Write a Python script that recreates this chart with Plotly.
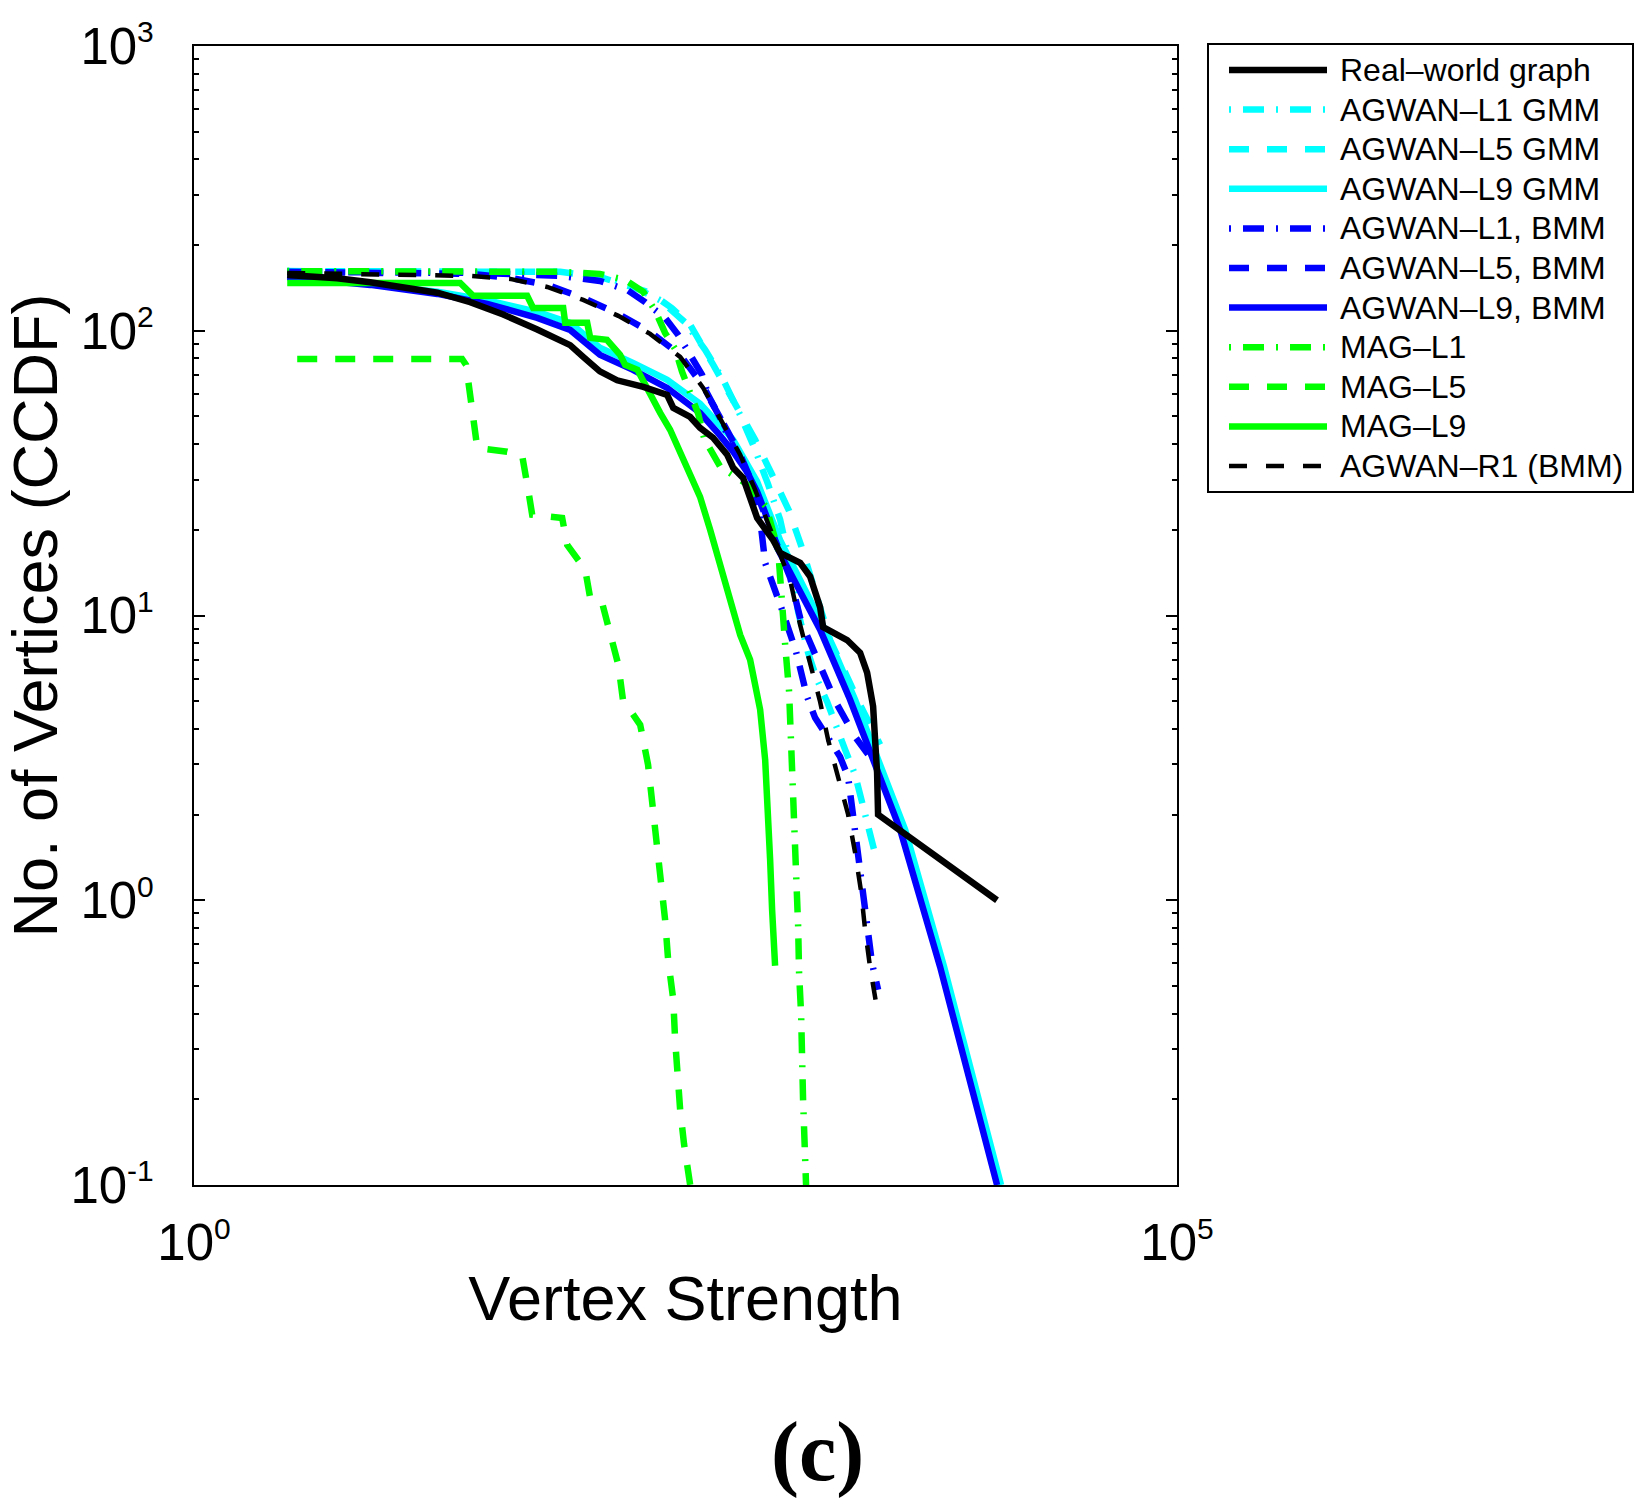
import plotly.graph_objects as go

# ---------------- data ----------------
names = ["Real–world graph", "AGWAN–L1 GMM", "AGWAN–L5 GMM", "AGWAN–L9 GMM",
         "AGWAN–L1, BMM", "AGWAN–L5, BMM", "AGWAN–L9, BMM",
         "MAG–L1", "MAG–L5", "MAG–L9", "AGWAN–R1 (BMM)"]

real_x = [2.98, 5.35, 7.88, 11.6, 17.3, 25.4, 37.4, 55.7, 67.1, 81.9, 95.4, 116, 142, 193,
          255, 274, 334, 375, 437, 515, 553, 621, 674, 732, 883, 958, 1211, 1361, 1530,
          1585, 2099, 2444, 2653, 2846, 2982, 3017, 12150]
real_y = [157, 153, 148, 142.5, 136, 126, 114, 101, 95, 89, 81, 72, 67, 63.5, 59.5, 53.6,
          49.8, 45.6, 42.1, 36.7, 33, 30.4, 25.9, 22, 18.4, 16.6, 15.3, 13.7, 10.7, 9.1,
          8.2, 7.4, 6.3, 4.8, 2.8, 2.0, 1.0]

gmm_l1_x = [2.98, 72.9, 116, 165, 235, 315, 398, 492, 600, 715, 833, 958, 1077, 1183,
            1329, 1477, 1661, 1824, 2050, 2305, 2474, 2653, 2812, 2948]
gmm_l1_y = [162, 161, 156, 145, 128, 107, 85.7, 67.2, 50.6, 38.2, 28.8, 21.7, 15.1, 10.3,
            7.4, 5.95, 4.98, 4.13, 3.38, 2.76, 2.25, 1.87, 1.63, 1.41]

gmm_l5_x = [2.98, 72.9, 116, 156, 209, 270, 334, 437, 566, 715, 872, 1064, 1225, 1393,
            1720, 2444, 3089]
gmm_l5_y = [162, 161, 154.5, 145, 136, 120, 105, 76, 55, 41.4, 31.2, 23.3, 17.6, 13.3,
            8.2, 4.86, 3.52]

gmm_l9_x = [2.98, 7.88, 17.3, 31.0, 55.7, 81.9, 116, 171, 255, 375, 553, 732, 958, 1622,
            2305, 4140, 6531, 12740]
gmm_l9_y = [157, 146, 137, 128, 116.5, 106.6, 87.1, 77.1, 67.2, 55.4, 41.4, 29.5, 18.4,
            8.91, 5.06, 1.77, 0.584, 0.1]

bmm_l1_x = [2.98, 28.6, 72.9, 116, 160, 197, 249, 290, 334, 384, 417, 475, 521, 651, 749,
            804, 969, 1155, 1314, 1443, 1680, 1933, 2124, 2279, 2474, 2653, 2812, 3017]
bmm_l1_y = [161, 159.6, 155.8, 149.6, 139, 126, 111, 96.7, 82.3, 70, 58.1, 49.4, 42.4,
            31.9, 23.5, 15.3, 10.7, 7.46, 5.18, 4.37, 3.72, 3.19, 2.71, 1.84, 1.26, 0.868,
            0.599, 0.485]

bmm_l5_x = [2.98, 25.4, 40.6, 62.6, 95.4, 144, 209, 297, 389, 486, 600, 715, 852, 1077,
            1225, 1548, 1845, 2305, 2812]
bmm_l5_y = [161, 158.4, 153.3, 144.9, 130.4, 114.6, 99.1, 82.3, 64, 48.6, 36.7, 27.6,
            20.3, 13.6, 9.5, 6.61, 4.94, 3.75, 3.11]

bmm_l9_x = [2.98, 7.88, 17.3, 31.0, 55.7, 81.9, 116, 171, 255, 375, 458, 553, 651, 732,
            823, 925, 1530, 2174, 3905, 6236, 12157]
bmm_l9_y = [154.5, 144.9, 134.7, 124.3, 111, 100.7, 82.3, 72.9, 63, 51.5, 44.1, 37.6,
            31.9, 27.2, 22, 17.3, 8.91, 5.06, 1.77, 0.584, 0.1]

mag_l1_x = [2.98, 72.9, 116, 156, 193, 222, 249, 280, 304, 334, 367, 394, 475, 636, 813,
            936, 969, 1016, 1064, 1090, 1116, 1128, 1155, 1183, 1196, 1225, 1253, 1298]
mag_l1_y = [162, 161, 158.4, 150.8, 136.9, 117.4, 98.3, 86.4, 71.7, 60.5, 51.1, 41.7,
            33.3, 29.2, 24.1, 17, 11.5, 7.89, 5.4, 3.69, 2.52, 1.74, 1.19, 0.808, 0.557,
            0.396, 0.2, 0.1]

mag_l5_x = [3.35, 23.1, 24.2, 26.0, 27.6, 39.2, 46.7, 50.1, 52.5, 74.6, 79.1, 97.7, 103.6,
            119, 128, 144, 152, 186, 204, 214, 224, 235, 249, 258, 274, 280, 287, 297, 311,
            334]
mag_l5_y = [79.6, 79.6, 75.9, 54.9, 38.8, 37.6, 36.4, 27.6, 22.6, 22, 17.7, 14.5, 11.5,
            11.1, 9.27, 6.71, 5.06, 4.13, 2.99, 2.25, 1.63, 1.18, 0.855, 0.618, 0.448,
            0.324, 0.244, 0.184, 0.139, 0.1]

mag_l9_x = [2.98, 22.6, 26.3, 49.5, 53.1, 75.5, 77.3, 100, 103.6, 126, 147, 156, 180, 202,
            235, 264, 297, 334, 375, 422, 475, 534, 600, 674, 758, 804, 833, 852, 872, 903]
mag_l9_y = [147.2, 147.2, 132.6, 132.6, 120.3, 120.3, 106.6, 106.6, 94.4, 92.9, 82.3,
            75.9, 72.9, 62, 51.5, 44.9, 37.3, 31.9, 26.1, 20, 15.1, 11.1, 8.55, 6.99, 4.67,
            3.11, 2.08, 1.39, 0.926, 0.589]

r1_x = [2.98, 25.4, 40.6, 62.6, 95.4, 144, 209, 297, 389, 486, 600, 715, 852, 1077, 1211,
        1361, 1530, 1680, 1889, 2124, 2305, 2474, 2591, 2748, 3017]
r1_y = [159.6, 155.8, 152.1, 142.5, 128.3, 112.8, 97.5, 80.9, 63, 47.9, 36.7, 27.6, 20,
        13.3, 9.27, 6.71, 4.98, 3.66, 2.69, 2.0, 1.47, 1.07, 0.788, 0.58, 0.396]

series_x = [real_x, gmm_l1_x, gmm_l5_x, gmm_l9_x, bmm_l1_x, bmm_l5_x, bmm_l9_x,
            mag_l1_x, mag_l5_x, mag_l9_x, r1_x]
series_y = [real_y, gmm_l1_y, gmm_l5_y, gmm_l9_y, bmm_l1_y, bmm_l5_y, bmm_l9_y,
            mag_l1_y, mag_l5_y, mag_l9_y, r1_y]

y_tickvals = [0.1, 1, 10, 100, 1000]
y_exponents = ["-1", "0", "1", "2", "3"]
x_tickvals = [1, 1e5]
x_exponents = ["0", "5"]


def pow_label(e):
    return "10<sup><span style='font-size:30px'>" + e + "</span></sup>"


# ---------------- styles ----------------
BLACK, CYAN, BLUE, GREEN = "#000000", "#00FFFF", "#0000FF", "#00FF00"
DD = "2px,12px,21px,12px"
DA = "20px,18px"
colors = [BLACK, CYAN, CYAN, CYAN, BLUE, BLUE, BLUE, GREEN, GREEN, GREEN, BLACK]
dashes = ["solid", DD, DA, "solid", DD, DA, "solid", DD, DA, "solid", "18px,19px"]
widths = [6.5, 6.5, 6.5, 6.5, 6.5, 6.5, 6.5, 6.5, 6.5, 6.5, 4.5]
draw_order = [1, 2, 3, 4, 5, 6, 7, 8, 9, 10, 0]

W, H = 1642, 1507
PL, PR, PT, PB = 194, 1177, 46, 1185          # plot area in px
LL, LR, LT, LB = 1209, 1632, 45, 491          # legend box in px
FONT = "Liberation Sans, Arial, Helvetica, sans-serif"

fig = go.Figure()
for i in draw_order:
    fig.add_trace(go.Scatter(
        x=series_x[i], y=series_y[i], mode="lines", name=names[i],
        line=dict(color=colors[i], width=widths[i], dash=dashes[i]),
        showlegend=False, hoverinfo="skip"))

# custom legend (drawn in a second pair of axes)
n = len(names)
for i in range(n):
    fig.add_trace(go.Scatter(
        x=[20, 118], y=[i, i], mode="lines", xaxis="x2", yaxis="y2",
        line=dict(color=colors[i], width=widths[i], dash=dashes[i]),
        showlegend=False, hoverinfo="skip"))
    fig.add_annotation(x=129, y=i, xref="x2", yref="y2", text=names[i], showarrow=False,
                       xanchor="left", yanchor="middle",
                       font=dict(family=FONT, size=32, color="black"))

minor_y = [m * 10 ** e for e in range(-1, 3) for m in range(2, 10)]

axis_common = dict(showline=True, linecolor="black", linewidth=2, mirror="ticks",
                   ticks="inside", ticklen=11, tickwidth=2, tickcolor="black",
                   showgrid=False, zeroline=False, automargin=False,
                   tickfont=dict(family=FONT, size=51, color="black"))

fig.update_layout(
    width=W, height=H, margin=dict(l=0, r=0, t=0, b=0, autoexpand=False),
    paper_bgcolor="white", plot_bgcolor="white", showlegend=False,
    xaxis=dict(domain=[PL / W, PR / W], type="log", range=[0, 5],
               tickmode="array", tickvals=x_tickvals,
               ticktext=[pow_label(e) for e in x_exponents],
               ticklabelstandoff=12,
               title=dict(text="Vertex Strength", standoff=6,
                          font=dict(family=FONT, size=63, color="black")),
               **axis_common),
    yaxis=dict(domain=[1 - PB / H, 1 - PT / H], type="log", range=[-1, 3],
               tickmode="array", tickvals=y_tickvals,
               ticktext=[pow_label(e) for e in y_exponents],
               ticklabelstandoff=28,
               minor=dict(ticks="inside", ticklen=5, tickwidth=2, tickcolor="black",
                          tickvals=minor_y, showgrid=False),
               title=dict(text="No. of Vertices (CCDF)", standoff=20,
                          font=dict(family=FONT, size=63, color="black")),
               **axis_common),
    xaxis2=dict(domain=[LL / W, LR / W], range=[0, LR - LL], anchor="y2", automargin=False,
                showline=True, mirror=True, linecolor="black", linewidth=2,
                showticklabels=False, ticks="", showgrid=False, zeroline=False),
    yaxis2=dict(domain=[1 - LB / H, 1 - LT / H], range=[n - 1 + 0.631, -0.631], anchor="x2",
                automargin=False,
                showline=True, mirror=True, linecolor="black", linewidth=2,
                showticklabels=False, ticks="", showgrid=False, zeroline=False),
)

fig.add_annotation(x=817 / W, y=1 - 1452 / H, xref="paper", yref="paper",
                   text="<b>(c)</b>", showarrow=False, xanchor="center", yanchor="middle",
                   font=dict(family="Liberation Serif, Times New Roman, serif", size=84,
                             color="black"))

fig.write_html("out.html")
